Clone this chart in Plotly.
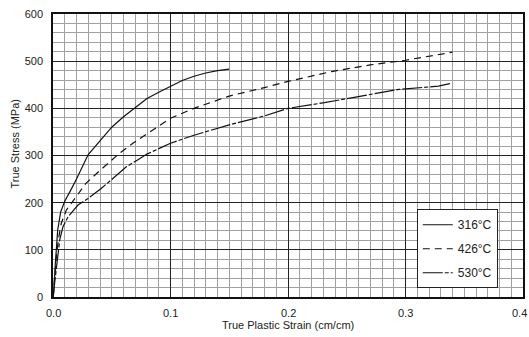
import plotly.graph_objects as go

# Data
strain_316 = [0, 0.0006, 0.002, 0.004, 0.0065, 0.01, 0.015, 0.02, 0.03, 0.04, 0.05, 0.06, 0.07,
              0.08, 0.09, 0.10, 0.11, 0.12, 0.13, 0.14, 0.15]
stress_316 = [0, 8, 71, 142, 180, 203, 226, 250, 302, 330, 360, 382, 402,
              421, 434, 447, 459, 468, 475, 480, 483]

strain_426 = [0, 0.001, 0.003, 0.005, 0.007, 0.0113, 0.0185, 0.028, 0.038, 0.048, 0.0567,
              0.068, 0.08, 0.09, 0.10, 0.12, 0.15, 0.18, 0.20, 0.237, 0.27, 0.30, 0.34]
stress_426 = [0, 30, 90, 128, 156, 184, 209, 241, 264, 286, 305,
              326, 346, 363, 379, 400, 426, 444, 457, 478, 492, 502, 519]

strain_530 = [0, 0.002, 0.0037, 0.0057, 0.0085, 0.0128, 0.0213, 0.0298, 0.041, 0.0525,
              0.0624, 0.0723, 0.08, 0.10, 0.12, 0.15, 0.18, 0.20, 0.231, 0.26, 0.294, 0.328, 0.339]
stress_530 = [0, 40, 85, 121, 149, 170, 195, 209, 230, 255,
              276, 291, 303, 326, 343, 365, 384, 400, 412, 425, 440, 447, 453]

series_names = ["316°C", "426°C", "530°C"]
x_ticks = [0.0, 0.1, 0.2, 0.3, 0.4]
y_ticks = [0, 100, 200, 300, 400, 500, 600]
x_title = "True Plastic Strain (cm/cm)"
y_title = "True Stress (MPa)"

FONT = "Liberation Sans, Arial, sans-serif"

fig = go.Figure()
fig.add_trace(go.Scatter(x=strain_316, y=stress_316, mode="lines", name=series_names[0],
                         legendgroup="a",
                         line=dict(color="#111", width=1.2, dash="solid")))
fig.add_trace(go.Scatter(x=strain_426, y=stress_426, mode="lines", name=series_names[1],
                         legendgroup="b",
                         line=dict(color="#111", width=1.2, dash="7px,5px")))
fig.add_trace(go.Scatter(x=strain_530, y=stress_530, mode="lines", name=series_names[2],
                         legendgroup="c",
                         line=dict(color="#111", width=1.2, dash="20px,2px,4px,2px")))

# x tick labels as annotations so the last one stays inside the picture
for v in x_ticks:
    last = v == x_ticks[-1]
    fig.add_annotation(x=v, y=0, xref="x", yref="paper", text=f"{v:.1f}",
                       showarrow=False, yanchor="top", yshift=-8,
                       xanchor="right" if last else "center", xshift=6 if last else 0,
                       font=dict(size=11, color="#222"))

fig.add_annotation(x=0.5, y=0, xref="paper", yref="paper", text=x_title,
                   showarrow=False, xanchor="center", yanchor="middle",
                   yshift=-28, font=dict(size=11, color="#222"))
fig.add_annotation(x=0, y=0.5, xref="paper", yref="paper", text=y_title,
                   textangle=-90, showarrow=False, xanchor="center", yanchor="middle",
                   xshift=-39, yshift=11, font=dict(size=11, color="#222"))

fig.update_layout(
    width=529, height=337,
    margin=dict(l=53, r=6, t=14, b=40),
    paper_bgcolor="white", plot_bgcolor="white",
    font=dict(family=FONT, size=11, color="#222"),
    showlegend=True,
    legend=dict(x=0.774, y=0.31, xanchor="left", yanchor="top",
                bgcolor="white", bordercolor="#222", borderwidth=1,
                font=dict(size=12, color="#222"), tracegroupgap=5,
                itemwidth=30, entrywidth=85, entrywidthmode="pixels"),
)
fig.update_xaxes(
    range=[0, 0.4], tickvals=x_ticks, showticklabels=False, automargin=False,
    showgrid=True, gridcolor="#222", gridwidth=1.2,
    minor=dict(dtick=0.01, showgrid=True, gridcolor="#a0a0a0", gridwidth=1),
    showline=True, linecolor="#111", linewidth=1.5, mirror=True,
    zeroline=False, ticks="", ticklen=0,
)
fig.update_yaxes(
    range=[0, 600], tickvals=y_ticks, automargin=False, ticklabelstandoff=6,
    showgrid=True, gridcolor="#222", gridwidth=1.2,
    minor=dict(dtick=20, showgrid=True, gridcolor="#a0a0a0", gridwidth=1),
    showline=True, linecolor="#111", linewidth=1.5, mirror=True,
    zeroline=False, ticks="", ticklen=0,
    tickfont=dict(size=11, color="#222"),
)

fig.write_html("out.html", config={"displayModeBar": False},
               post_script="document.body.style.margin='0';document.body.style.overflow='hidden';")
